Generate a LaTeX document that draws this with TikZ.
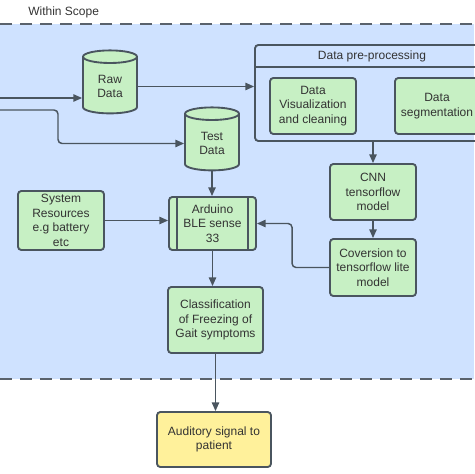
\documentclass[tikz,border=0pt]{standalone}
\usepackage{fontspec}
\setmainfont{Liberation Sans}
\usetikzlibrary{shapes.geometric,arrows.meta}

\begin{document}
\begin{tikzpicture}[x=0.75pt,y=0.75pt,yscale=-1,xscale=1,
  every node/.style={font=\fontsize{9}{10.9}\selectfont, text={rgb,255:red,51;green,51;blue,51}, align=center},
  proc/.style={draw={rgb,255:red,74;green,85;blue,95}, line width=1.4pt, fill={rgb,255:red,199;green,240;blue,196}, rounded corners=2.5pt, inner sep=1pt},
  store/.style={cylinder, shape border rotate=90, aspect=0.45, draw={rgb,255:red,74;green,85;blue,95}, line width=1.4pt, fill={rgb,255:red,199;green,240;blue,196}, inner sep=1pt, minimum width=40.5pt, minimum height=47.25pt},
  frame/.style={draw={rgb,255:red,74;green,85;blue,95}, line width=1.4pt},
  flow/.style={draw={rgb,255:red,74;green,85;blue,95}, line width=1.1pt, -{Triangle[length=6.5pt,width=5.5pt]}},
  scopeline/.style={draw={rgb,255:red,90;green,98;blue,108}, line width=1.8pt, dash pattern=on 9pt off 6pt}]
        %uncomment if require: \path (0,474); %set diagram left start at 0, and has height of 474
        \useasboundingbox (0,0) rectangle (474,474);

        %Shape: Rectangle (scope area)
        \fill[fill={rgb,255:red,207;green,226;blue,255}] (0,24) rectangle (474,379);
        \draw[scopeline] (0,24) -- (474,24);
        \draw[scopeline] (0,379) -- (474,379);
        % Text Node
        \node[anchor=west, inner sep=0.75pt] (scopelbl) at (27,12) {Within Scope};

        %Shape: Container
        \node[frame, rounded corners=2.5pt, minimum width=168.75pt, minimum height=72pt] (prep) at (367.5,93) {};
        \coordinate (prephead) at (0,67);
        \draw[frame] (prep.west |- prephead) -- (prep.east |- prephead);
        % Text Node
        \node (preptitle) at (372,56) {Data pre-processing};

        %Shape: Can
        \node[store] (rawdata) at (110,86.5) {Raw\\Data};
        %Shape: Can
        \node[store] (testdata) at (212,143.5) {Test\\Data};

        %Shape: Rectangle
        \node[proc, minimum width=64.5pt, minimum height=42pt] (dataviz) at (313,106) {Data\\Visualization\\and cleaning};
        %Shape: Rectangle
        \node[proc, minimum width=63pt, minimum height=42pt] (dataseg) at (437,106) {Data\\segmentation};
        %Shape: Rectangle
        \node[proc, minimum width=64.5pt, minimum height=42pt] (cnn) at (373,192) {CNN\\tensorflow\\model};
        %Shape: Rectangle
        \node[proc, minimum width=64.5pt, minimum height=42.75pt] (conv) at (373,267.5) {Coversion to\\tensorflow lite\\model};
        %Shape: Rectangle
        \node[proc, minimum width=64.5pt, minimum height=44.25pt] (system) at (61,220.5) {System\\Resources\\e.g battery\\etc};
        %Shape: Predefined process
        \node[proc, minimum width=65.25pt, minimum height=39.75pt] (arduino) at (212.5,223.5) {Arduino\\BLE sense\\33};
        \draw[frame] ([xshift=6.75pt]arduino.north west) -- ([xshift=6.75pt]arduino.south west);
        \draw[frame] ([xshift=-6.75pt]arduino.north east) -- ([xshift=-6.75pt]arduino.south east);
        %Shape: Rectangle
        \node[proc, minimum width=71.25pt, minimum height=49.5pt] (classif) at (215.5,320) {Classification\\of Freezing of\\Gait symptoms};
        %Shape: Rectangle
        \node[proc, fill={rgb,255:red,255;green,241;blue,155}, minimum width=85.5pt, minimum height=41.25pt] (audit) at (214,439.5) {Auditory signal to\\patient};

        % Connectors
        \coordinate (inraw) at (0,98);
        \coordinate (intest) at (0,110);
        \coordinate (intestbend) at (58,110);
        \draw[flow] (inraw) -- (inraw -| rawdata.west);
        \draw[flow, rounded corners=3pt] (intest) -- (intestbend) |- (testdata.west);
        \draw[flow] (rawdata.east) -- (rawdata.east -| prep.west);
        \draw[flow] (cnn.north |- prep.south) -- (cnn.north);
        \draw[flow] (cnn) -- (conv);
        \draw[flow, rounded corners=3pt] (conv.west) -- ++(-37,0) |- (arduino.east);
        \draw[flow] (system.east) -- (system.east -| arduino.west);
        \draw[flow] (testdata.south) -- (testdata.south |- arduino.north);
        \draw[flow] (arduino.south) -- (arduino.south |- classif.north);
        \draw[flow] (classif.south) -- (classif.south |- audit.north);

\end{tikzpicture}
\end{document}
